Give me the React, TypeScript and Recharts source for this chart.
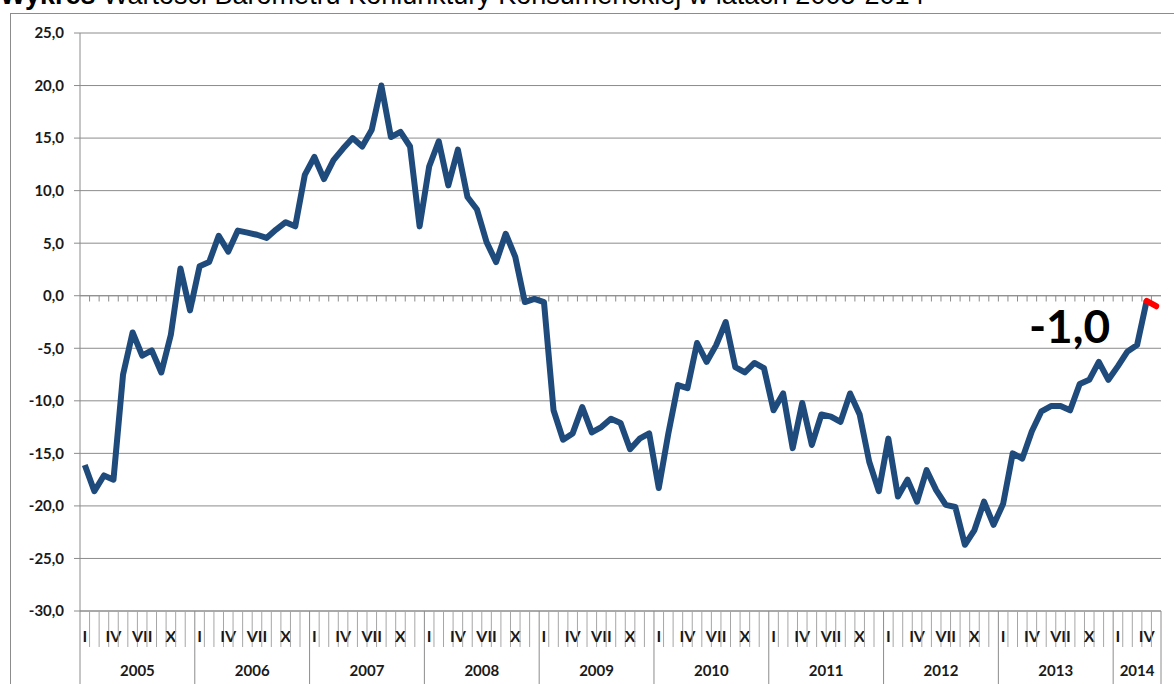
import { CartesianGrid, LabelList, Line, LineChart, ReferenceLine, XAxis, YAxis } from "recharts";

const years = ["2005", "2006", "2007", "2008", "2009", "2010", "2011", "2012", "2013", "2014"];
const monthsPerYear = [12, 12, 12, 12, 12, 12, 12, 12, 12, 5];
const monthLabels: Record<number, string> = { 0: "I", 3: "IV", 6: "VII", 9: "X" };
const yTicks = [-30, -25, -20, -15, -10, -5, 0, 5, 10, 15, 20, 25];

const values2005 = [-16.1, -18.6, -17.1, -17.5, -7.5, -3.5, -5.7, -5.2, -7.3, -3.7, 2.6, -1.4];
const values2006 = [2.8, 3.2, 5.7, 4.2, 6.2, 6.0, 5.8, 5.5, 6.3, 7.0, 6.6, 11.5];
const values2007 = [13.2, 11.1, 12.9, 14.0, 15.0, 14.2, 15.8, 20.0, 15.1, 15.6, 14.2, 6.6];
const values2008 = [12.3, 14.7, 10.5, 13.9, 9.4, 8.2, 5.1, 3.2, 5.9, 3.7, -0.6, -0.3];
const values2009 = [-0.6, -10.9, -13.7, -13.1, -10.6, -13.0, -12.5, -11.7, -12.1, -14.6, -13.6, -13.1];
const values2010 = [-18.3, -13.1, -8.5, -8.8, -4.5, -6.3, -4.7, -2.5, -6.8, -7.3, -6.4, -6.9];
const values2011 = [-10.9, -9.3, -14.5, -10.2, -14.2, -11.3, -11.5, -12.0, -9.3, -11.3, -15.8, -18.6];
const values2012 = [-13.6, -19.1, -17.5, -19.6, -16.6, -18.5, -19.9, -20.1, -23.7, -22.3, -19.6, -21.8];
const values2013 = [-19.8, -15.0, -15.5, -12.9, -11.0, -10.5, -10.5, -10.9, -8.4, -8.0, -6.3, -8.0];
const values2014 = [-6.7, -5.3, -4.7, -0.5, -1.0];

const values = [
  ...values2005, ...values2006, ...values2007, ...values2008, ...values2009,
  ...values2010, ...values2011, ...values2012, ...values2013, ...values2014,
];

const total = values.length;
const lastIdx = total - 1;

const data = values.map((v, i) => ({
  x: i + 0.5,
  main: i <= lastIdx - 1 ? v : null,
  last: i >= lastIdx - 1 ? v : null,
}));

// year boundaries + year label positions
const yearStarts: number[] = [];
let acc = 0;
monthsPerYear.forEach((n) => {
  yearStarts.push(acc);
  acc += n;
});
yearStarts.push(acc);
const yearCenters = monthsPerYear.map((n, i) => yearStarts[i] + n / 2);

const xTicks: number[] = [];
for (let k = 0; k <= total; k++) {
  xTicks.push(k);
  if (k < total) xTicks.push(k + 0.5);
}

const FONT = "Lato, 'Open Sans', sans-serif";
const GRID = "#8c8c8c";

function MonthTick(props: any) {
  const { x, y, payload } = props;
  const v: number = payload.value;
  const parts: any[] = [];
  if (Number.isInteger(v)) {
    const isYear = yearStarts.includes(v);
    parts.push(<line key="l" x1={x} x2={x} y1={y} y2={y + (isYear ? 73 : 36)} stroke={isYear ? GRID : "#a6a6a6"} strokeWidth={1} />);
  } else {
    const m = Math.floor(v);
    let yi = 0;
    while (yearStarts[yi + 1] <= m) yi++;
    const label = monthLabels[m - yearStarts[yi]];
    if (label) {
      parts.push(
        <text key="m" x={x} y={y + 31} textAnchor="middle" fontFamily={FONT} fontWeight="bold" fontSize={16} fill="#1a1a1a">
          {label}
        </text>
      );
    }
  }
  const yc = yearCenters.indexOf(v);
  if (yc >= 0) {
    parts.push(
      <text key="y" x={x} y={y + 65} textAnchor="middle" fontFamily={FONT} fontWeight="bold" fontSize={15} fill="#1a1a1a">
        {years[yc]}
      </text>
    );
  }
  return <g>{parts}</g>;
}

const renderLastLabel = (props: any) => {
  const { x, y, index } = props;
  if (index !== lastIdx) return null;
  return (
    <text x={x - 46} y={y + 37} textAnchor="end" fontFamily={FONT} fontWeight="bold" fontSize={46} fill="#000">
      -1,0
    </text>
  );
};

export default function App() {
  return (
    <div style={{ position: "absolute", left: 0, top: 0, width: 1174, height: 684, overflow: "hidden", background: "#fff" }}>
      <div
        style={{
          position: "absolute",
          left: 0,
          top: -18,
          fontFamily: "'Liberation Sans', Arial, sans-serif",
          fontSize: 27,
          lineHeight: "27px",
          whiteSpace: "nowrap",
          color: "#000",
        }}
      >
        <b>Wykres</b> Wartości Barometru Koniunktury Konsumenckiej w latach 2005-2014
      </div>
      <div style={{ position: "absolute", left: 10, top: 13, width: 1164, height: 671, borderTop: "1px solid #8c8c8c", borderLeft: "1px solid #8c8c8c" }} />
      <div style={{ position: "absolute", left: 0, top: 0 }}>
        <LineChart width={1174} height={684} data={data} margin={{ top: 33, right: 13, left: 10, bottom: 0 }}>
          <CartesianGrid vertical={false} stroke={GRID} />
          <XAxis
            type="number"
            dataKey="x"
            domain={[0, total]}
            ticks={xTicks}
            interval={0}
            tick={<MonthTick />}
            tickLine={false}
            tickSize={0}
            tickMargin={0}
            height={73}
            axisLine={{ stroke: GRID }}
          />
          <YAxis
            type="number"
            domain={[-30, 25]}
            ticks={yTicks}
            interval={0}
            width={70}
            tickSize={6}
            tickMargin={10}
            tickFormatter={(v: number) => v.toFixed(1).replace(".", ",")}
            tick={{ fontFamily: FONT, fontWeight: "bold", fontSize: 15, fill: "#1a1a1a" }}
            axisLine={{ stroke: GRID }}
            tickLine={{ stroke: GRID }}
          />
          <ReferenceLine y={0} stroke={GRID} />
          {xTicks
            .filter((t) => Number.isInteger(t) && t > 0 && t < total)
            .map((t) => (
              <ReferenceLine
                key={`z${t}`}
                segment={[
                  { x: t, y: 0 },
                  { x: t, y: -0.55 },
                ]}
                stroke={GRID}
              />
            ))}
          <Line
            type="linear"
            dataKey="main"
            stroke="#1F4A7C"
            strokeWidth={6}
            strokeLinejoin="round"
            dot={false}
            isAnimationActive={false}
          />
          <Line
            type="linear"
            dataKey="last"
            stroke="#FF0000"
            strokeWidth={6}
            strokeLinecap="round"
            dot={false}
            isAnimationActive={false}
          >
            <LabelList dataKey="last" content={renderLastLabel} />
          </Line>
        </LineChart>
      </div>
    </div>
  );
}
